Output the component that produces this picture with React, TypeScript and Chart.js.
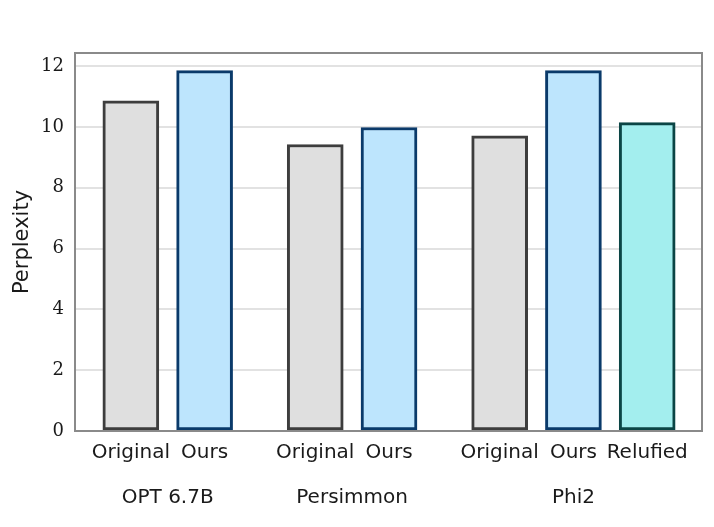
import React, { useEffect, useRef } from "react";
import { Chart, registerables } from "chart.js";

Chart.register(...registerables);

// Bars (one entry per bar)
const barLabels = ["Original", "Ours", "Original", "Ours", "Original", "Ours", "Relufied"];
const barPositions = [0, 1, 2.5, 3.5, 5, 6, 7];
const perplexity = [10.86, 11.85, 9.42, 9.98, 9.71, 11.85, 10.14];
const barKinds = ["orig", "ours", "orig", "ours", "orig", "ours", "relu"];

// Groups
const groupLabels = ["OPT 6.7B", "Persimmon", "Phi2"];
const groupPositions = [0.5, 3, 6];

const yTicks = [0, 2, 4, 6, 8, 10, 12];

const fillColors: Record<string, string> = { orig: "#dfdfdf", ours: "#bde5fd", relu: "#a3eeee" };
const edgeColors: Record<string, string> = { orig: "#3d3d3d", ours: "#0a3a6a", relu: "#0b4545" };

const frame = {
  id: "frame",
  afterDraw(chart: any) {
    const { ctx, chartArea } = chart;
    ctx.save();
    ctx.strokeStyle = "#8a8a8a";
    ctx.lineWidth = 2;
    ctx.strokeRect(chartArea.left, chartArea.top, chartArea.right - chartArea.left, chartArea.bottom - chartArea.top);
    ctx.restore();
  },
};

export default function App() {
  const ref = useRef<HTMLCanvasElement | null>(null);
  useEffect(() => {
    if (!ref.current) return;
    const X_MIN = -0.757;
    const X_MAX = 7.743;
    const chart = new Chart(ref.current, {
      type: "bar",
      data: {
        datasets: [
          {
            data: barPositions.map((x, i) => ({ x, y: perplexity[i] })),
            backgroundColor: barKinds.map((k) => fillColors[k]),
            borderColor: barKinds.map((k) => edgeColors[k]),
            borderWidth: 3,
            borderSkipped: false,
            barThickness: 56,
          } as any,
        ],
      },
      options: {
        animation: false,
        responsive: false,
        maintainAspectRatio: false,
        layout: { padding: { top: 53, right: 12, left: 0, bottom: 0 } },
        plugins: { legend: { display: false }, tooltip: { enabled: false } },
        scales: {
          x: {
            type: "linear",
            position: "bottom",
            weight: 0,
            offset: false,
            min: X_MIN,
            max: X_MAX,
            grid: { display: false, drawTicks: false, offset: false },
            border: { display: false },
            afterBuildTicks: (s: any) => {
              s.ticks = barPositions.map((v) => ({ value: v }));
            },
            afterFit: (s: any) => {
              s.height = 45;
            },
            ticks: {
              autoSkip: false,
              maxRotation: 0,
              padding: 10,
              color: "#1a1a1a",
              font: { family: "DejaVu Sans", size: 20 },
              callback: (v: any) => {
                const i = barPositions.indexOf(Number(v));
                return i >= 0 ? barLabels[i] : "";
              },
            },
          },
          x2: {
            type: "linear",
            position: "bottom",
            weight: 1,
            offset: false,
            min: X_MIN,
            max: X_MAX,
            grid: { display: false, drawTicks: false, offset: false },
            border: { display: false },
            afterBuildTicks: (s: any) => {
              s.ticks = groupPositions.map((v) => ({ value: v }));
            },
            afterFit: (s: any) => {
              s.height = 51;
            },
            ticks: {
              autoSkip: false,
              maxRotation: 0,
              padding: 10,
              color: "#1a1a1a",
              font: { family: "DejaVu Sans", size: 20 },
              callback: (v: any) => {
                const i = groupPositions.indexOf(Number(v));
                return i >= 0 ? groupLabels[i] : "";
              },
            },
          },
          y: {
            type: "linear",
            min: 0,
            max: 12.43,
            afterBuildTicks: (s: any) => {
              s.ticks = yTicks.map((v) => ({ value: v }));
            },
            afterFit: (s: any) => {
              s.width = 75;
            },
            grid: { color: "#e2e2e2", lineWidth: 2, drawTicks: false },
            border: { display: false },
            title: {
              display: true,
              text: "Perplexity",
              color: "#1a1a1a",
              font: { family: "DejaVu Sans", size: 21 },
              padding: { top: 10, bottom: 0 },
            },
            ticks: {
              padding: 11,
              color: "#1a1a1a",
              font: { family: "DejaVu Serif", size: 18 },
            },
          },
        },
      } as any,
      plugins: [frame],
    });
    return () => chart.destroy();
  }, []);
  return (
    <div style={{ position: "fixed", left: 0, top: 0, width: 714, height: 527, background: "#fff" }}>
      <canvas ref={ref} width={714} height={527} style={{ width: 714, height: 527 }} />
    </div>
  );
}
